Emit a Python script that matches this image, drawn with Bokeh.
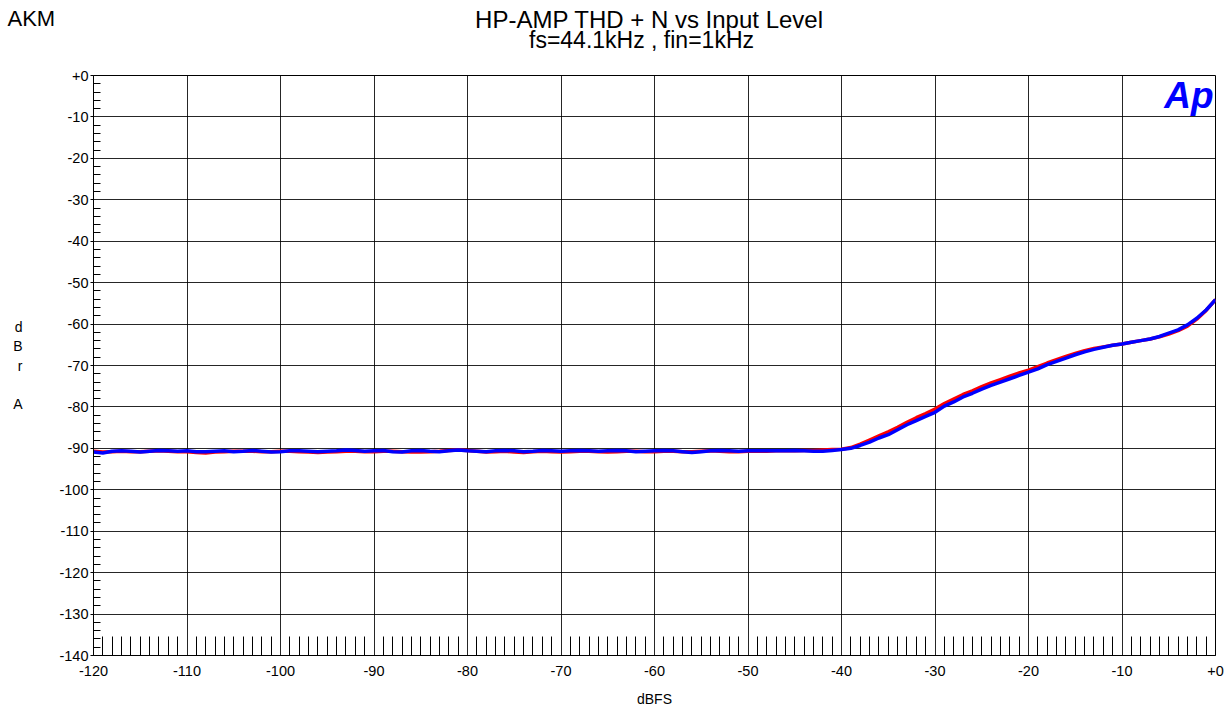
from bokeh.plotting import figure
from bokeh.models import Range1d, FixedTicker, Label
from bokeh.layouts import column
from bokeh.core.properties import value
from bokeh.embed import file_html
from bokeh.resources import INLINE

# ---------------- data ----------------
x_levels = list(range(-120, 1))  # input level, dBFS (1 dB steps)

thdn_red = [
    -90.7, -90.9, -90.8, -90.7, -90.8, -90.8, -90.7, -90.6, -90.7, -90.8,   # -120..-111
    -90.8, -91.0, -91.1, -90.9, -90.8, -90.7, -90.7, -90.7, -90.8, -90.8,   # -110..-101
    -90.7, -90.7, -90.8, -90.9, -91.0, -90.9, -90.8, -90.7, -90.7, -90.8,   # -100..-91
    -90.8, -90.7, -90.7, -90.8, -90.9, -90.9, -90.8, -90.7, -90.5, -90.4,   # -90..-81
    -90.5, -90.7, -90.9, -90.8, -90.7, -90.9, -91.0, -90.8, -90.7, -90.8,   # -80..-71
    -90.9, -90.8, -90.7, -90.7, -90.8, -90.9, -90.8, -90.7, -90.7, -90.8,   # -70..-61
    -90.8, -90.7, -90.7, -90.8, -90.8, -90.7, -90.6, -90.7, -90.8, -90.8,   # -60..-51
    -90.7, -90.7, -90.7, -90.6, -90.6, -90.6, -90.5, -90.5, -90.4, -90.3,   # -50..-41
    -90.2, -89.8, -89.0, -88.0, -87.0, -86.0, -84.9, -83.7, -82.6, -81.6,   # -40..-31
    -80.5, -79.2, -78.1, -77.0, -76.1, -75.1, -74.2, -73.4, -72.6, -71.8,   # -30..-21
    -71.1, -70.3, -69.4, -68.6, -67.8, -67.1, -66.4, -65.9, -65.5, -65.1,   # -20..-11
    -64.8, -64.4, -64.0, -63.6, -63.1, -62.4, -61.6, -60.5, -58.8, -56.7,   # -10..-1
    -54.1,                                                                  # 0
]

thdn_blue = [
    -90.9, -91.1, -90.7, -90.6, -90.7, -90.9, -90.7, -90.5, -90.6, -90.7,   # -120..-111
    -90.6, -90.8, -90.8, -90.7, -90.6, -90.8, -90.7, -90.5, -90.7, -90.9,   # -110..-101
    -90.8, -90.6, -90.6, -90.7, -90.8, -90.7, -90.6, -90.4, -90.5, -90.7,   # -100..-91
    -90.6, -90.5, -90.8, -90.9, -90.6, -90.5, -90.7, -90.8, -90.6, -90.4,   # -90..-81
    -90.6, -90.7, -90.8, -90.6, -90.5, -90.6, -90.8, -90.7, -90.5, -90.6,   # -80..-71
    -90.7, -90.6, -90.5, -90.6, -90.7, -90.6, -90.5, -90.6, -90.8, -90.7,   # -70..-61
    -90.6, -90.5, -90.6, -90.8, -91.0, -90.8, -90.6, -90.5, -90.6, -90.7,   # -60..-51
    -90.6, -90.6, -90.6, -90.6, -90.6, -90.5, -90.6, -90.7, -90.7, -90.5,   # -50..-41
    -90.3, -90.0, -89.3, -88.5, -87.5, -86.7, -85.5, -84.3, -83.3, -82.3,   # -40..-31
    -81.3, -79.8, -78.8, -77.6, -76.7, -75.7, -74.8, -74.0, -73.2, -72.4,   # -30..-21
    -71.6, -70.8, -69.8, -69.0, -68.2, -67.4, -66.7, -66.1, -65.6, -65.1,   # -20..-11
    -64.8, -64.4, -64.0, -63.6, -63.0, -62.2, -61.4, -60.2, -58.6, -56.6,   # -10..-1
    -54.1,                                                                  # 0
]

x_major = list(range(-120, 1, 10))
x_minor = [v for v in range(-120, 1) if v % 10 != 0]
y_major = list(range(-140, 1, 10))
y_minor = [v for v in range(-140, 1, 2) if v % 10 != 0]

x_labels = {v: ("+0" if v == 0 else str(v)) for v in x_major}
y_labels = {v: ("+0" if v == 0 else str(v)) for v in y_major}

title_1 = "HP-AMP  THD + N  vs  Input Level"
title_2 = "fs=44.1kHz , fin=1kHz"
brand = "AKM"
x_title = "dBFS"
y_title = "d\nB\nr\n\nA"
logo = "Ap"

FONT = "Liberation Sans"
W = 1225
HEAD_H = 65
MAIN_H = 709 - HEAD_H

# ---------------- header (brand + two-line title) ----------------
head = figure(width=W, height=HEAD_H, output_backend="svg",
              toolbar_location=None, x_axis_type=None, y_axis_type=None,
              x_range=Range1d(0, W), y_range=Range1d(HEAD_H, 0),
              min_border=0, min_border_left=0, min_border_right=0,
              min_border_top=0, min_border_bottom=0)
head.outline_line_color = None
head.grid.visible = False
head.background_fill_color = "white"
head.border_fill_color = "white"

head.text(x=[7], y=[18], text=[brand], text_font=value(FONT),
          text_font_size="22px", text_align="left",
          text_baseline="middle", text_color="black")
head.text(x=[659], y=[19], text=[title_1], text_font=value(FONT),
          text_font_size="24px", text_align="center",
          text_baseline="middle", text_color="black")
head.text(x=[641], y=[39.5], text=[title_2], text_font=value(FONT),
          text_font_size="23px", text_align="center",
          text_baseline="middle", text_color="black")

# ---------------- main chart ----------------
BL, BR, BT, BB = 93, 10, 10, 54
p = figure(width=W, height=MAIN_H, output_backend="svg", toolbar_location=None,
           x_range=Range1d(-120, 0), y_range=Range1d(-140, 0),
           min_border_left=BL, min_border_right=BR,
           min_border_top=BT, min_border_bottom=BB)
p.background_fill_color = "white"
p.border_fill_color = "white"
p.outline_line_color = "black"
p.outline_line_width = 1

# keep the header's frame independent of the chart's frame
for fig in (head, p):
    if "frame_align" in fig.properties():
        fig.frame_align = False

p.xaxis.ticker = FixedTicker(ticks=x_major, minor_ticks=x_minor)
p.yaxis.ticker = FixedTicker(ticks=y_major, minor_ticks=y_minor)
p.xaxis.major_label_overrides = x_labels
p.yaxis.major_label_overrides = y_labels

for ax in (p.xaxis, p.yaxis):
    ax.axis_line_color = "black"
    ax.major_tick_line_color = "black"
    ax.minor_tick_line_color = "black"
    ax.major_label_text_font = FONT
    ax.major_label_text_font_size = "14.5px"
    ax.major_label_text_color = "black"
    ax.major_tick_in = 0
    ax.axis_label_text_font = FONT
    ax.axis_label_text_font_size = "14px"
    ax.axis_label_text_font_style = "normal"
    ax.axis_label_text_color = "black"

p.xaxis.major_tick_out = 0
p.xaxis.minor_tick_in = 19
p.xaxis.minor_tick_out = 0
p.xaxis.major_label_standoff = 10
p.xaxis.axis_label = x_title
p.xaxis.axis_label_standoff = 12

p.yaxis.major_tick_out = 3
p.yaxis.minor_tick_in = 7
p.yaxis.minor_tick_out = 0
p.yaxis.major_label_standoff = 2
p.yaxis.axis_label = y_title
p.yaxis.axis_label_orientation = "horizontal"
p.yaxis.axis_label_text_line_height = 1.2
p.yaxis.axis_label_standoff = 34

p.grid.grid_line_color = "black"
p.grid.grid_line_alpha = 0.85
p.grid.grid_line_width = 1

p.line(x_levels, thdn_red, line_color="#ff0000", line_width=3.5)
p.line(x_levels, thdn_blue, line_color="#0000ff", line_width=3.5)

# Audio Precision logo inside the frame (top-right corner)
p.add_layout(Label(x=0, y=0, x_offset=-2, y_offset=-20, text=logo,
                   text_font=FONT, text_font_size="37px", text_align="right",
                   text_baseline="alphabetic", text_font_style="bold italic",
                   text_color="#0000ff"))

layout = column(head, p, spacing=0)
open("out.html", "w").write(file_html(layout, INLINE))
